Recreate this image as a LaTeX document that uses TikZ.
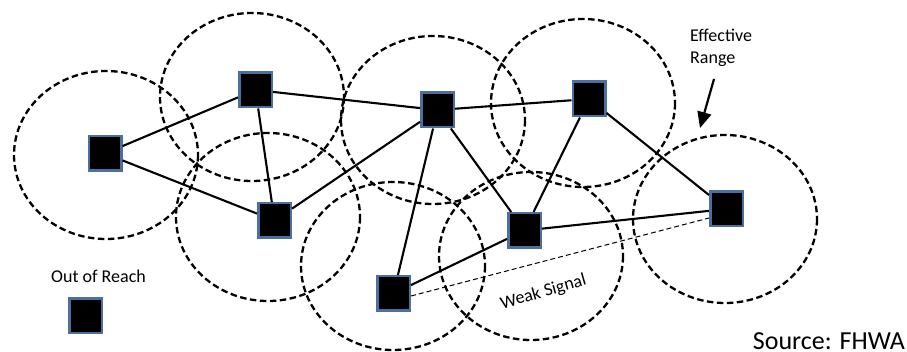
\documentclass[tikz,border=0pt]{standalone}
\usepackage{fontspec}
\setmainfont{Carlito}
\usetikzlibrary{arrows.meta}
\definecolor{nodeblue}{RGB}{74,112,160}
\begin{document}
\begin{tikzpicture}[x=1pt,y=-1pt,
  reachring/.style={draw, line width=2.3pt, dash pattern=on 6.5pt off 3.5pt},
  sensor/.style={rectangle, draw=nodeblue, fill=black, line width=2.5pt,
    minimum width=32.5pt, minimum height=34.5pt, inner sep=0pt},
  link/.style={line width=2.1pt},
  weak/.style={line width=1pt, dash pattern=on 5pt off 3pt},
  lbl/.style={font=\fontsize{18}{22}\selectfont, inner sep=0pt}]
\useasboundingbox (0,0) rectangle (907,352);
% effective ranges
\foreach \cx/\cy in {106/155, 252/97, 433/120, 583/103, 268/217, 393/266, 531/256, 725/219}
  \draw[reachring] (\cx,\cy) ellipse [x radius=92, y radius=84];
% sensors
\node[sensor] (A) at (105,153.5) {};
\node[sensor] (B) at (255.5,90) {};
\node[sensor] (C) at (437.5,110) {};
\node[sensor] (D) at (589,99) {};
\node[sensor] (E) at (274.5,220.5) {};
\node[sensor] (F) at (524.5,230.5) {};
\node[sensor] (G) at (393.5,293.5) {};
\node[sensor] (H) at (726.5,209) {};
\node[sensor] (O) at (85.5,316) {};
% links
\draw[link] (A) -- (B);
\draw[link] (A) -- (E);
\draw[link] (B) -- (C);
\draw[link] (B) -- (E);
\draw[link] (C) -- (D);
\draw[link] (C) -- (E);
\draw[link] (C) -- (G);
\draw[link] (C) -- (F);
\draw[link] (D) -- (F);
\draw[link] (D) -- (H);
\draw[link] (F) -- (H);
\draw[link] (G) -- (F);
\draw[weak] ([yshift=-2.5pt]G.east) -- ([yshift=-9pt]H.west);
% labels
\node[lbl, anchor=north west, align=left] (eff) at (690,29) {Effective\\Range};
\coordinate (arrtail) at (714,79);
\coordinate (arrtip) at (700,128);
\draw[line width=2.2pt, -{Triangle[length=16pt,width=14pt]}] (arrtail) -- (arrtip);
\node[lbl, anchor=base west] (oor) at (51,282.5) {Out of Reach};
\node[lbl, rotate=16, text depth=0pt] (ws) at (543,291) {Weak Signal};
\node[font=\fontsize{26}{30}\selectfont, inner sep=0pt, text depth=0pt, anchor=base east] (src) at (905,349) {Source: FHWA};
\end{tikzpicture}
\end{document}
